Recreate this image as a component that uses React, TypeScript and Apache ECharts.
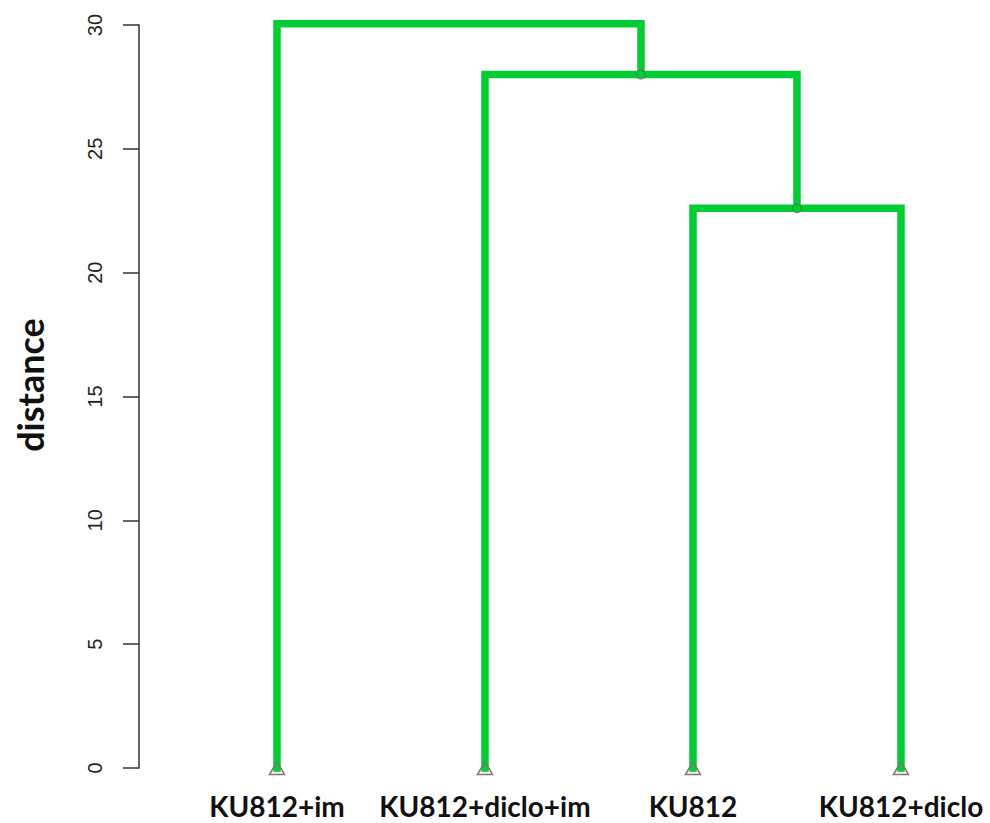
import React, { useEffect, useRef } from "react";
import * as echarts from "echarts";

const leafNames = ["KU812+im", "KU812+diclo+im", "KU812", "KU812+diclo"];
const leafPositions = [1, 2, 3, 4];
// R hclust style merges: negative = leaf index (1-based), positive = earlier merge
const mergeA = [-3, -2, -1];
const mergeB = [-4, 1, 2];
const mergeHeights = [22.6, 28.0, 30.05];
const yTicks = [0, 5, 10, 15, 20, 25, 30];
const yTitle = "distance";

const GREEN = "#00CC33";

export default function App() {
  const ref = useRef<HTMLDivElement>(null);
  useEffect(() => {
    if (!ref.current) return;
    const chart = echarts.init(ref.current, null, { renderer: "svg" });

    const nodeX: number[] = [];
    const nodeH: number[] = [];
    const getPos = (id: number): [number, number] =>
      id < 0 ? [leafPositions[-id - 1], 0] : [nodeX[id - 1], nodeH[id - 1]];

    const lineSeries: any[] = [];
    const nodePoints: number[][] = [];
    mergeA.forEach((a, i) => {
      const [xa, ha] = getPos(a);
      const [xb, hb] = getPos(mergeB[i]);
      const h = mergeHeights[i];
      nodeX.push((xa + xb) / 2);
      nodeH.push(h);
      nodePoints.push([(xa + xb) / 2, h]);
      lineSeries.push({
        type: "line",
        data: [
          [xa, ha],
          [xa, h],
          [xb, h],
          [xb, hb],
        ],
        symbol: "none",
        clip: false,
        lineStyle: { color: GREEN, width: 7.5, join: "miter", cap: "square" },
        z: 2,
      });
    });

    chart.setOption({
      animation: false,
      grid: { left: 139, right: 0, top: 25, bottom: 55 },
      xAxis: {
        type: "value",
        min: 0.3365,
        max: 4.428,
        show: false,
      },
      yAxis: {
        type: "value",
        min: 0,
        max: 30,
        interval: 5,
        axisLine: { show: true, lineStyle: { color: "#333", width: 1.5 } },
        axisTick: { show: true, length: 16, lineStyle: { color: "#333", width: 1.5 } },
        splitLine: { show: false },
        axisLabel: {
          rotate: 90,
          margin: 34,
          fontFamily: "Liberation Sans",
          fontSize: 20,
          color: "#222",
          formatter: (v: number) => (yTicks.includes(v) ? String(v) : ""),
        },
      },
      graphic: [
        {
          type: "text",
          x: 30,
          y: 385,
          rotation: Math.PI / 2,
          style: {
            text: yTitle,
            fontFamily: "Lato",
            fontWeight: "bold",
            fontSize: 36,
            fill: "#111",
            textAlign: "center",
            textVerticalAlign: "middle",
          },
        },
      ],
      series: [
        ...lineSeries,
        {
          type: "scatter",
          data: nodePoints,
          symbol: "circle",
          symbolSize: 9,
          itemStyle: { color: "rgba(0,0,0,0)", borderColor: "#666", borderWidth: 1, opacity: 1 },
          z: 5,
        },
        {
          type: "scatter",
          data: leafPositions.map((p) => [p, 0]),
          symbol: "triangle",
          symbolSize: [15, 13],
          itemStyle: { color: "rgba(0,0,0,0)", borderColor: "#777", borderWidth: 1.5, opacity: 1 },
          label: {
            show: true,
            position: "bottom",
            distance: 17,
            formatter: (p: any) => leafNames[p.dataIndex],
            fontFamily: "Lato",
            fontWeight: "bold",
            fontSize: 28,
            color: "#111",
          },
          z: 5,
        },
      ],
    });
    return () => chart.dispose();
  }, []);
  return (
    <div
      ref={ref}
      style={{ position: "absolute", left: 0, top: 0, width: 990, height: 823 }}
    />
  );
}
